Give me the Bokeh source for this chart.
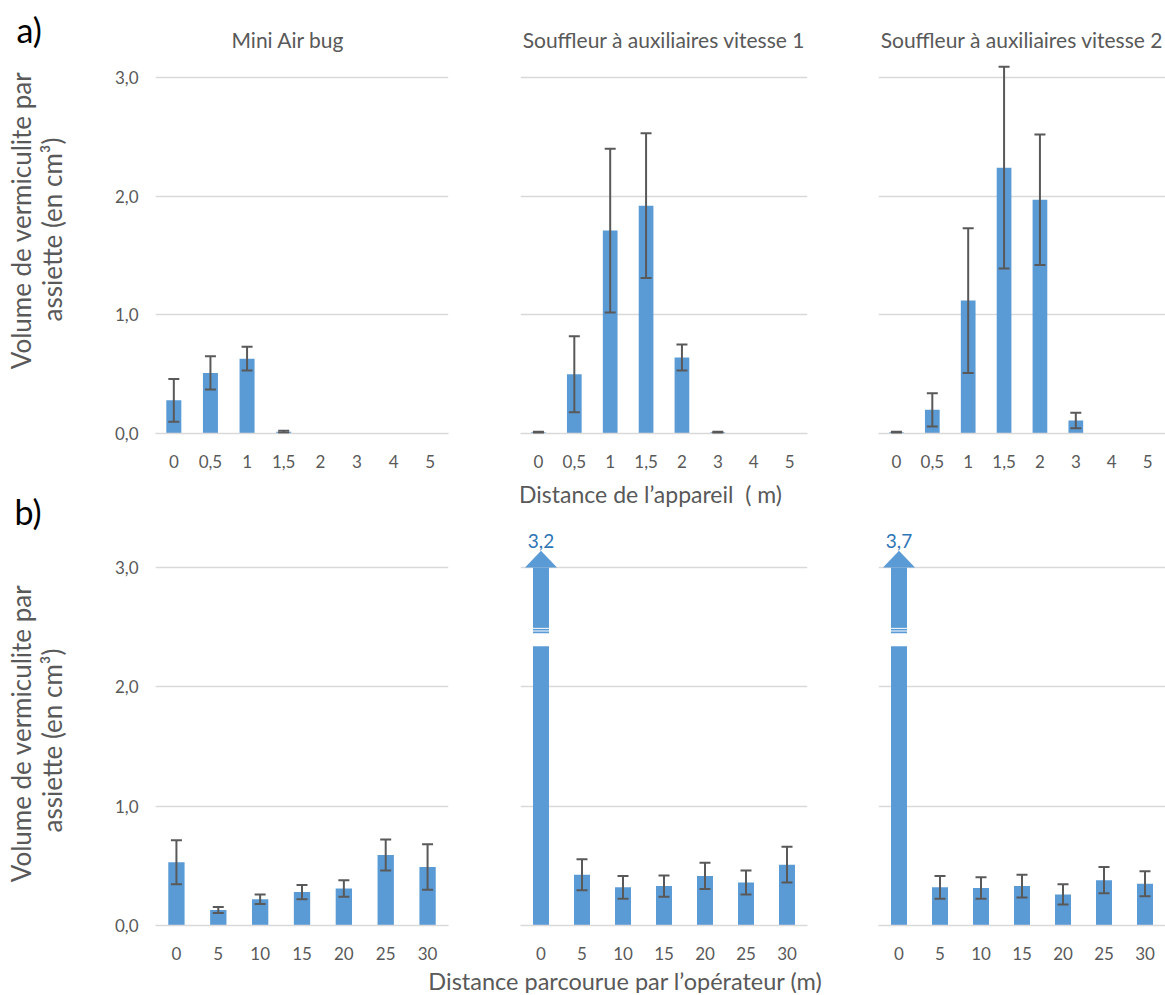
from bokeh.plotting import figure
from bokeh.layouts import row, column
from bokeh.models import (ColumnDataSource, Whisker, TeeHead, FixedTicker,
                          Range1d, FactorRange)
from bokeh.core.properties import value
from bokeh.embed import file_html
from bokeh.resources import INLINE
import math

# ---------------- data ----------------
DIST_APP = ["0", "0,5", "1", "1,5", "2", "3", "4", "5"]
DIST_OP = ["0", "5", "10", "15", "20", "25", "30"]
PANEL_TITLES = ["Mini Air bug",
                "Souffleur à auxiliaires vitesse 1",
                "Souffleur à auxiliaires vitesse 2"]

A_MINI = [0.28, 0.51, 0.63, 0.015, 0.0, 0.0, 0.0, 0.0]
A_MINI_ERR = [0.18, 0.14, 0.10, 0.008, 0.0, 0.0, 0.0, 0.0]
A_V1 = [0.01, 0.50, 1.71, 1.92, 0.64, 0.01, 0.005, 0.0]
A_V1_ERR = [0.005, 0.32, 0.69, 0.61, 0.11, 0.005, 0.0, 0.0]
A_V2 = [0.01, 0.20, 1.12, 2.24, 1.97, 0.11, 0.005, 0.0]
A_V2_ERR = [0.005, 0.14, 0.61, 0.85, 0.55, 0.065, 0.0, 0.0]

B_MINI = [0.53, 0.13, 0.22, 0.28, 0.31, 0.59, 0.49]
B_MINI_ERR = [0.185, 0.025, 0.04, 0.06, 0.07, 0.13, 0.19]
B_V1 = [3.2, 0.425, 0.32, 0.33, 0.415, 0.36, 0.51]
B_V1_ERR = [0.0, 0.13, 0.095, 0.09, 0.11, 0.10, 0.15]
B_V2 = [3.7, 0.32, 0.315, 0.33, 0.26, 0.38, 0.35]
B_V2_ERR = [0.0, 0.095, 0.09, 0.095, 0.085, 0.11, 0.105]

Y_TICKS = [0, 1, 2, 3]
Y_TICK_LABELS = ["0,0", "1,0", "2,0", "3,0"]

PART_LABELS = ["a)", "b)"]
Y_LABEL_LINES = ["Volume de vermiculite par", "assiette (en cm³)"]
X_TITLE_A = "Distance de l’appareil \u00a0( m)"
X_TITLE_B = "Distance parcourue par l’opérateur (m)"

# ---------------- style / layout ----------------
BLUE = "#5B9BD5"
ERR_COLOR = "#595959"
GRID = "#D9D9D9"
TEXT = "#595959"
LABEL_BLUE = "#2E75B6"
FONT = "Lato"

Y_MAX_A = 3.143
Y_MAX_B = 3.352
Y_DISPLAY_MAX = 3.0
BREAK_LOW = 2.34
BREAK_HIGH = 2.45
BREAK_LINES = [2.468, 2.49]
ARROW_TIP = 3.14
ARROW_HALF = 0.39
VALUE_LABEL_Y = 3.226

PAGE_W = 1165
LAB_W = 100          # left strip holding "a)", "b)" and the y titles
ROWS_H = 967         # height of the two chart rows
STRIP_H = 26         # bottom strip holding the lower x title

# columns: (left border, frame width, right border); same for both rows
COL_L = (55, 293, 2)
COL_M = (70, 287, 33)
COL_R = (38, 287, 0)
MID_X0 = LAB_W + sum(COL_L)      # page x of the middle column
MSTRIP_Y0 = 477                  # page y of the strip between the middle panels
MSTRIP_H = 36

# page-pixel anchors of the side texts
PART_POS = [(16, 29), (14, 511)]
YLAB_POS = [[(20, 220), (51, 229)], [(20, 733), (51, 740)]]
X_TITLE_A_POS = (650, 493)
X_TITLE_B_POS = (625, 980)


def fmt(v):
    return f"{v:.1f}".replace(".", ",")


def blank(x0, y0, w, h, bl=0, br=0):
    """Text-only figure whose data coordinates are page pixels (y upward)."""
    p = figure(x_range=Range1d(x0 + bl, x0 + bl + w), y_range=Range1d(-(y0 + h), -y0),
               frame_width=w, frame_height=h,
               min_border_left=bl, min_border_right=br,
               min_border_top=0, min_border_bottom=0,
               output_backend="svg", toolbar_location=None, tools="",
               outline_line_color=None, background_fill_color="white",
               border_fill_color="white")
    p.axis.visible = False
    p.grid.visible = False
    return p


def panel(cats, vals, errs, col, bt, fh, bb, ymax, bar_w, show_y,
          title=None, title_align="center", title_offset=0):
    fl, fw, br = col
    p = figure(x_range=FactorRange(factors=cats), y_range=Range1d(0, ymax),
               frame_width=fw, frame_height=fh,
               min_border_left=fl, min_border_right=br,
               min_border_top=bt, min_border_bottom=bb,
               output_backend="svg", toolbar_location=None, tools="",
               outline_line_color=None, background_fill_color="white",
               border_fill_color="white")
    if title:
        p.title.text = title
        p.title.align = title_align
        p.title.offset = title_offset
        p.title.text_font = FONT
        p.title.text_font_size = "21px"
        p.title.text_font_style = "normal"
        p.title.text_color = TEXT
        p.title.standoff = 18

    p.xgrid.visible = False
    p.ygrid.ticker = FixedTicker(ticks=Y_TICKS)
    p.ygrid.grid_line_color = GRID
    p.ygrid.grid_line_width = 1.5

    p.xaxis.axis_line_color = GRID
    p.xaxis.axis_line_width = 1.5
    p.xaxis.major_tick_line_color = None
    p.xaxis.minor_tick_line_color = None
    p.xaxis.major_tick_out = 0
    p.xaxis.major_label_standoff = 21
    p.xaxis.major_label_text_font = FONT
    p.xaxis.major_label_text_font_size = "17px"
    p.xaxis.major_label_text_color = TEXT

    if show_y:
        p.yaxis.ticker = FixedTicker(ticks=Y_TICKS)
        p.yaxis.major_label_overrides = dict(zip(Y_TICKS, Y_TICK_LABELS))
        p.yaxis.axis_line_color = None
        p.yaxis.major_tick_line_color = None
        p.yaxis.minor_tick_line_color = None
        p.yaxis.major_tick_out = 0
        p.yaxis.major_label_standoff = 17
        p.yaxis.major_label_text_font = FONT
        p.yaxis.major_label_text_font_size = "17px"
        p.yaxis.major_label_text_color = TEXT
    else:
        p.yaxis.visible = False

    shown = [min(v, BREAK_LOW) if v > Y_DISPLAY_MAX else v for v in vals]
    p.vbar(x=cats, top=shown, width=bar_w, fill_color=BLUE, line_color=None)

    for c, v in zip(cats, vals):
        if v > Y_DISPLAY_MAX:
            p.vbar(x=[c], bottom=[BREAK_HIGH], top=[Y_DISPLAY_MAX], width=bar_w,
                   fill_color=BLUE, line_color=None)
            p.segment(x0=[(c, -bar_w / 2)] * 2, x1=[(c, bar_w / 2)] * 2,
                      y0=BREAK_LINES, y1=BREAK_LINES,
                      line_color="white", line_width=1)
            p.patch(x=[(c, -ARROW_HALF), (c, ARROW_HALF), (c, 0.0)],
                    y=[Y_DISPLAY_MAX, Y_DISPLAY_MAX, ARROW_TIP],
                    fill_color=BLUE, line_color=None)
            p.text(x=[c], y=[VALUE_LABEL_Y], text=[fmt(v)],
                   text_font=value(FONT), text_font_size="19px",
                   text_color=LABEL_BLUE, text_align="center",
                   text_baseline="middle")

    xs, up, lo = [], [], []
    for c, v, e in zip(cats, vals, errs):
        if e > 0:
            xs.append(c)
            up.append(v + e)
            lo.append(max(v - e, 0))
    src = ColumnDataSource(dict(x=xs, upper=up, lower=lo))
    w = Whisker(base="x", upper="upper", lower="lower", source=src,
                dimension="height", line_color=ERR_COLOR, line_width=2,
                level="annotation",
                upper_head=TeeHead(size=11, line_color=ERR_COLOR, line_width=2),
                lower_head=TeeHead(size=11, line_color=ERR_COLOR, line_width=2))
    p.add_layout(w)
    return p


# ---------------- left strip: part letters and y titles ----------------
LAB = blank(0, 0, LAB_W, ROWS_H)
LAB.text(x=[p[0] for p in PART_POS], y=[-p[1] for p in PART_POS],
         text=PART_LABELS, text_font=value(FONT), text_font_size="34px",
         text_color="black", text_align="left", text_baseline="middle")
for pair in YLAB_POS:
    LAB.text(x=[p[0] for p in pair], y=[-p[1] for p in pair],
             text=Y_LABEL_LINES, angle=math.pi / 2,
             text_font=value(FONT), text_font_size="26px", text_color=TEXT,
             text_align="center", text_baseline="middle")

# ---------------- row a ----------------
L1 = panel(DIST_APP, A_MINI, A_MINI_ERR, COL_L, 60, 373, 52, Y_MAX_A, 0.41,
           True, PANEL_TITLES[0], "left", 76)
M1 = panel(DIST_APP, A_V1, A_V1_ERR, COL_M, 60, 373, 44, Y_MAX_A, 0.41,
           False, PANEL_TITLES[1])
R1 = panel(DIST_APP, A_V2, A_V2_ERR, COL_R, 60, 373, 52, Y_MAX_A, 0.41,
           False, PANEL_TITLES[2])

# strip between the middle panels: upper x title
MSTRIP = blank(MID_X0, MSTRIP_Y0, COL_M[1], MSTRIP_H, COL_M[0], COL_M[2])
MSTRIP.text(x=[X_TITLE_A_POS[0]], y=[-X_TITLE_A_POS[1]],
            text=[X_TITLE_A], text_font=value(FONT), text_font_size="23px",
            text_color=TEXT, text_align="center", text_baseline="middle")

# ---------------- row b ----------------
L2 = panel(DIST_OP, B_MINI, B_MINI_ERR, COL_L, 40, 400, 42, Y_MAX_B, 0.39, True)
M2 = panel(DIST_OP, B_V1, B_V1_ERR, COL_M, 12, 400, 42, Y_MAX_B, 0.39, False)
R2 = panel(DIST_OP, B_V2, B_V2_ERR, COL_R, 40, 400, 42, Y_MAX_B, 0.39, False)

# ---------------- bottom strip: lower x title ----------------
STRIP = blank(0, ROWS_H, PAGE_W, STRIP_H)
STRIP.text(x=[X_TITLE_B_POS[0]], y=[-X_TITLE_B_POS[1]],
           text=[X_TITLE_B], text_font=value(FONT), text_font_size="23.5px",
           text_color=TEXT, text_align="center", text_baseline="middle")

layout = column(row(LAB, column(L1, L2), column(M1, MSTRIP, M2), column(R1, R2)),
                STRIP)

open("out.html", "w").write(file_html(layout, INLINE))
